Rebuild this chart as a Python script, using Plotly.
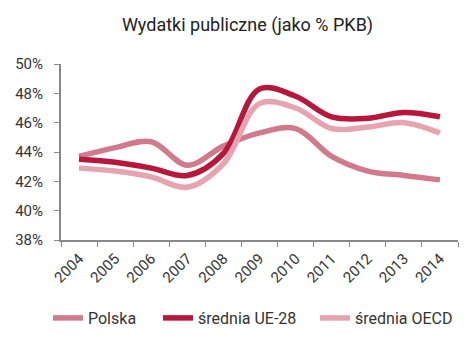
import plotly.graph_objects as go

years = ["2004", "2005", "2006", "2007", "2008", "2009", "2010", "2011", "2012", "2013", "2014"]
polska = [43.7, 44.3, 44.7, 43.1, 44.4, 45.3, 45.6, 43.7, 42.7, 42.4, 42.1]
ue28 = [43.5, 43.3, 42.9, 42.4, 43.9, 48.3, 47.8, 46.4, 46.3, 46.7, 46.4]
oecd = [42.9, 42.7, 42.3, 41.6, 43.2, 47.3, 47.0, 45.6, 45.7, 46.0, 45.3]

series = [("Polska", polska, "#d27a8c", "legend", 48),
          ("średnia UE-28", ue28, "#b8173b", "legend2", 158),
          ("średnia OECD", oecd, "#e8a3b0", "legend3", 315)]

font_family = "Roboto, sans-serif"
W, H = 476, 354

fig = go.Figure()
legends = {}
for name, vals, col, leg, lx in series:
    fig.add_trace(go.Scatter(x=years, y=vals, name=name, mode="lines", legend=leg,
                             line=dict(color=col, width=5.5, shape="spline", smoothing=1.0)))
    legends[leg] = dict(orientation="h", xref="container", x=lx / W, xanchor="left",
                        yref="container", y=(H - 318) / H, yanchor="middle", bgcolor="rgba(0,0,0,0)",
                        font=dict(size=16, color="#333333"))

fig.update_layout(
    width=W, height=H,
    margin=dict(l=61, r=18, t=64, b=114, autoexpand=False),
    paper_bgcolor="white", plot_bgcolor="white",
    font=dict(family=font_family, color="#333333", size=14),
    title=dict(text="Wydatki publiczne (jako % PKB)", x=0.52, xanchor="center", y=0.93, yanchor="middle",
               font=dict(size=18, color="#222222", family=font_family)),
    showlegend=True,
    **legends,
)
fig.update_xaxes(type="category", range=[-0.5, 10.5], tickson="boundaries", ticks="outside", ticklen=5,
                 tickcolor="#888888", showline=True, linecolor="#888888", linewidth=2, showgrid=False,
                 tickangle=-45, tickfont=dict(size=15), ticklabelstandoff=2, automargin=False)
fig.update_yaxes(range=[38, 50], dtick=2, ticksuffix="%", ticks="outside", ticklen=5, tickcolor="#888888",
                 showline=True, linecolor="#888888", linewidth=2, showgrid=False, zeroline=False,
                 tickfont=dict(size=15), ticklabelstandoff=8, automargin=False)

fig.write_html("out.html")
